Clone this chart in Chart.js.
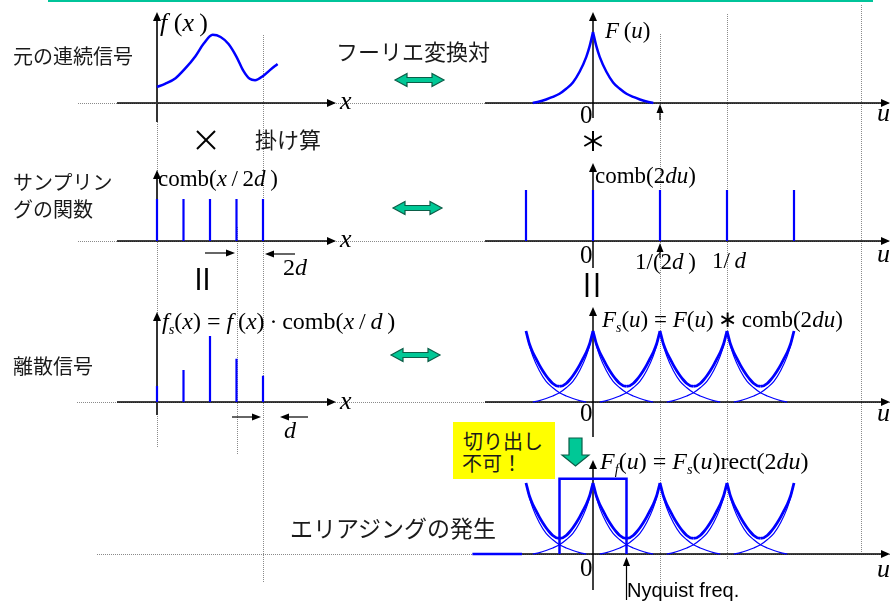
<!DOCTYPE html>
<html>
<head>
<meta charset="utf-8">
<script src="https://cdn.jsdelivr.net/npm/chart.js@4.4.0/dist/chart.umd.min.js"></script>
<style>
body{margin:0;background:#fff;}
#wrap{position:relative;width:890px;height:603px;overflow:hidden;}
#c{position:absolute;left:0;top:0;}
.t{position:absolute;white-space:nowrap;line-height:1;}
.jp{font-family:"Noto Sans CJK JP",sans-serif;color:#1a1a1a;}
.m{font-family:"Liberation Serif","Times New Roman",serif;color:#000;}
.m i{font-style:italic;}
.sb{font-size:0.6em;position:relative;top:0.35em;}
.s{font-family:"Liberation Sans",Arial,sans-serif;color:#000;}
#note{position:absolute;left:453px;top:422px;width:102px;height:57px;background:#ffff00;}
</style>
</head>
<body>
<div id="wrap">
<canvas id="c" width="890" height="603"></canvas>
<div id="note"></div>

<div class="t jp" style="left:13px;top:46px;font-size:20px">元の連続信号</div>
<div class="t jp" style="left:336px;top:39px;font-size:22px">フーリエ変換対</div>
<div class="t jp" style="left:255px;top:127px;font-size:22px">掛け算</div>
<div class="t jp" style="left:13px;top:172px;font-size:20px">サンプリン</div>
<div class="t jp" style="left:13px;top:199px;font-size:20px">グの関数</div>
<div class="t jp" style="left:13px;top:356px;font-size:20px">離散信号</div>
<div class="t jp" style="left:290px;top:516px;font-size:23px">エリアジングの発生</div>
<div class="t jp" style="left:463px;top:431px;font-size:20px">切り出し</div>
<div class="t jp" style="left:462px;top:453px;font-size:20px">不可！</div>
<div class="t s" style="left:627px;top:580px;font-size:20px">Nyquist freq.</div>

<div class="t m" style="left:160px;top:10px;font-size:26px"><i>f</i>&nbsp;(<i>x</i>&thinsp;)</div>
<div class="t m" style="left:605px;top:19px;font-size:23px"><i>F</i>&thinsp;(<i>u</i>)</div>
<div class="t m" style="left:340px;top:88px;font-size:26px"><i>x</i></div>
<div class="t m" style="left:340px;top:226px;font-size:26px"><i>x</i></div>
<div class="t m" style="left:340px;top:388px;font-size:26px"><i>x</i></div>
<div class="t m" style="left:877px;top:100px;font-size:26px"><i>u</i></div>
<div class="t m" style="left:877px;top:241px;font-size:26px"><i>u</i></div>
<div class="t m" style="left:877px;top:400px;font-size:26px"><i>u</i></div>
<div class="t m" style="left:877px;top:556px;font-size:26px"><i>u</i></div>
<div class="t m" style="left:580px;top:102px;font-size:25px">0</div>
<div class="t m" style="left:580px;top:242px;font-size:25px">0</div>
<div class="t m" style="left:580px;top:400px;font-size:25px">0</div>
<div class="t m" style="left:580px;top:555px;font-size:25px">0</div>
<div class="t m" style="left:158px;top:167px;font-size:23px">comb(<i>x</i>&thinsp;/&thinsp;2<i>d</i>&thinsp;)</div>
<div class="t m" style="left:595px;top:164px;font-size:23px">comb(2<i>du</i>)</div>
<div class="t m" style="left:635px;top:250px;font-size:23px">1/(2<i>d</i>&thinsp;)</div>
<div class="t m" style="left:712px;top:249px;font-size:23px">1/&thinsp;<i>d</i></div>
<div class="t m" style="left:283px;top:255px;font-size:24px">2<i>d</i></div>
<div class="t m" style="left:284px;top:418px;font-size:24px"><i>d</i></div>
<div class="t m" style="left:162px;top:309px;font-size:24px"><i>f</i><span class="sb"><i>s</i></span>(<i>x</i>) = <i>f</i>&thinsp;(<i>x</i>)&thinsp;·&thinsp;comb(<i>x</i>&thinsp;/&thinsp;<i>d</i>&thinsp;)</div>
<div class="t m" style="left:602px;top:308px;font-size:23px"><i>F</i><span class="sb"><i>s</i></span>(<i>u</i>) = <i>F</i>(<i>u</i>)&thinsp;∗&thinsp;comb(2<i>du</i>)</div>
<div class="t m" style="left:600px;top:449px;font-size:24px"><i>F</i><span class="sb"><i>f</i></span>(<i>u</i>) = <i>F</i><span class="sb"><i>s</i></span>(<i>u</i>)rect(2<i>du</i>)</div>
</div>

<script>
// left column: x in units of d
const sampleX = [0, 1, 2, 3, 4];
const combXH = [0.59, 0.59, 0.59, 0.59, 0.59];
const sampleH = [0.225, 0.45, 0.93, 0.61, 0.37];
const fX = [0, 0.3, 0.7, 1.05, 1.45, 1.75, 2.1, 2.4, 2.7, 3.0, 3.25, 3.5, 3.7, 4.0, 4.25, 4.55];
const fY = [0.225, 0.27, 0.35, 0.48, 0.66, 0.83, 0.96, 0.93, 0.83, 0.65, 0.46, 0.34, 0.32, 0.38, 0.46, 0.55];

// right column: u in units of 1/(2d)
const combU = [-1, 0, 1, 2, 3];
const combUH = [0.72, 0.72, 0.72, 0.72, 0.72];
// one side of F(u), offset from its peak
const specOff = [0, 0.05, 0.1, 0.2, 0.3, 0.4, 0.5, 0.6, 0.7, 0.8, 0.9];
const specVal = [1, 0.80, 0.65, 0.44, 0.29, 0.20, 0.13, 0.085, 0.05, 0.02, 0];
// one side of the summed (aliased) spectrum, offset from a peak
const sumOff = [0, 0.05, 0.1, 0.15, 0.2, 0.25, 0.3, 0.35, 0.4, 0.45, 0.5];
const sumVal = [1, 0.82, 0.70, 0.61, 0.52, 0.44, 0.37, 0.31, 0.26, 0.23, 0.22];
const repCenters = [-1, 0, 1, 2, 3];
// rect(2du) window
const rectU = [-1.8, -1.06, null, -0.5, -0.5, 0.5, 0.5];
const rectV = [0, 0, null, 0, 1.06, 1.06, 0];

const W = 890, H = 603, P = 71;
const rowY = [103, 241, 402, 554];
const x0L = 157, dxL = 26.5, u0R = 593, duR = 67;
const BLUE = '#0000ff', TEAL = '#00c896';

const scales = {
  x: {display: false}, y: {display: false},
  xL: {type: 'linear', display: false, min: -x0L / dxL, max: (W - x0L) / dxL},
  xR: {type: 'linear', display: false, min: -u0R / duR, max: (W - u0R) / duR}
};
rowY.forEach((y, i) => {
  scales['y' + (i + 1)] = {type: 'linear', display: false, min: -(H - y) / P, max: y / P};
});

function spikes(xs, hs) {
  const d = [];
  xs.forEach((x, i) => { d.push({x: x, y: 0}, {x: x, y: hs[i]}, {x: x, y: null}); });
  return d;
}
function half(c, sign, off, val) {
  return off.map((o, i) => ({x: c + sign * o, y: val[i]}));
}
function curveSet(row, off, val, width, first, last) {
  const out = [];
  repCenters.forEach(c => {
    if (c < first || c > last) return;
    if (c > first || first === last) out.push(half(c, -1, off, val));
    if (c < last || first === last) out.push(half(c, 1, off, val));
  });
  return out.map(d => ({data: d, xAxisID: 'xR', yAxisID: 'y' + row, borderColor: BLUE,
    borderWidth: width, cubicInterpolationMode: 'monotone'}));
}

const datasets = [];
datasets.push({data: fX.map((x, i) => ({x: x, y: fY[i]})), xAxisID: 'xL', yAxisID: 'y1',
  borderColor: BLUE, borderWidth: 2.5, cubicInterpolationMode: 'monotone'});
datasets.push({data: spikes(sampleX, combXH), xAxisID: 'xL', yAxisID: 'y2', borderColor: BLUE, borderWidth: 2.2});
datasets.push({data: spikes(sampleX, sampleH), xAxisID: 'xL', yAxisID: 'y3', borderColor: BLUE, borderWidth: 2.2});
datasets.push({data: spikes(combU, combUH), xAxisID: 'xR', yAxisID: 'y2', borderColor: BLUE, borderWidth: 2.2});
// row 1: F(u)
curveSet(1, specOff, specVal, 2.5, 0, 0).forEach(d => datasets.push(d));
// rows 3 and 4: replicas and their sum
[3, 4].forEach(r => {
  curveSet(r, specOff, specVal, 1.2, -1, 3).forEach(d => datasets.push(d));
  curveSet(r, sumOff, sumVal, 2.8, -1, 3).forEach(d => datasets.push(d));
});
datasets.push({data: rectU.map((u, i) => ({x: u, y: rectV[i]})), xAxisID: 'xR', yAxisID: 'y4',
  borderColor: BLUE, borderWidth: 2.5, tension: 0});

const decor = {
  id: 'decor',
  beforeDatasetsDraw(ch) {
    const c = ch.ctx, s = ch.scales;
    const XL = v => s.xL.getPixelForValue(v), XR = v => s.xR.getPixelForValue(v);
    const Y = (r, v) => s['y' + r].getPixelForValue(v);
    const line = (x1, y1, x2, y2) => { c.beginPath(); c.moveTo(x1, y1); c.lineTo(x2, y2); c.stroke(); };
    const head = (x, y, dir, L, w) => {
      c.beginPath(); c.moveTo(x, y);
      if (dir === 'r') { c.lineTo(x - L, y - w); c.lineTo(x - L, y + w); }
      if (dir === 'l') { c.lineTo(x + L, y - w); c.lineTo(x + L, y + w); }
      if (dir === 'u') { c.lineTo(x - w, y + L); c.lineTo(x + w, y + L); }
      c.closePath(); c.fill();
    };
    c.save();
    // top rule
    c.strokeStyle = '#00c49a'; c.lineWidth = 2; line(48, 1, 873, 1);
    // dotted guides
    c.strokeStyle = '#8a8a8a'; c.lineWidth = 1; c.setLineDash([1, 1]);
    [[1, 78], [2, 78], [3, 77], [4, 97]].forEach(([r, xs]) => line(xs, Math.round(Y(r, 0)) + 0.5, W, Math.round(Y(r, 0)) + 0.5));
    [[XL(0), 122, 447], [XL(3), 227, 455], [XL(4), 35, 582], [XR(1), 34, 590], [XR(2), 14, 560], [XR(4), 5, 553]]
      .forEach(([x, y1, y2]) => line(Math.round(x) + 0.5, y1, Math.round(x) + 0.5, y2));
    c.setLineDash([]);
    // axes
    c.strokeStyle = '#000'; c.fillStyle = '#000'; c.lineWidth = 1.5;
    [1, 2, 3].forEach(r => { const y = Y(r, 0); line(117, y, 328, y); head(336, y, 'r', 9, 4); });
    [1, 2, 3, 4].forEach(r => { const y = Y(r, 0); line(485, y, 882, y); head(890, y, 'r', 9, 4); });
    c.strokeStyle = '#333'; c.fillStyle = '#000'; c.lineWidth = 2;
    [[1, 122, 12], [2, 241, 170], [3, 415, 312]].forEach(([r, yb, yt]) => { line(XL(0), yb, XL(0), yt + 8); head(XL(0), yt, 'u', 9, 4); });
    c.strokeStyle = '#000'; c.lineWidth = 1.5;
    [[118, 12], [268, 163], [437, 307], [590, 460]].forEach(([yb, yt]) => { line(XR(0), yb, XR(0), yt + 8); head(XR(0), yt, 'u', 9, 4); });
    // small up arrows
    c.lineWidth = 1.2;
    [[XR(1), 120, 104], [XR(1), 258, 243], [XR(0.5), 600, 557]].forEach(([x, yb, yt]) => { line(x, yb, x, yt + 7); head(x, yt, 'u', 9, 3.5); });
    // spacing arrows
    [[205, 235, 253, 'r'], [295, 265, 254, 'l'], [232, 261, 417, 'r'], [308, 280, 417, 'l']].forEach(([a, b, y, d]) => {
      line(a, y, d === 'r' ? b - 7 : b + 7, y); head(b, y, d, 9, 3.5);
    });
    // multiply, convolve, equal signs
    c.lineWidth = 2;
    line(197, 131, 215, 149); line(215, 131, 197, 149);
    const cx = XR(0), cy = 141, rr = 10;
    for (let k = 0; k < 3; k++) { const a = Math.PI / 2 + k * Math.PI / 3; line(cx - rr * Math.cos(a), cy - rr * Math.sin(a), cx + rr * Math.cos(a), cy + rr * Math.sin(a)); }
    c.lineWidth = 2.6;
    line(198.5, 268, 198.5, 290); line(206.5, 268, 206.5, 290);
    line(587, 273, 587, 297); line(597, 273, 597, 297);
    // teal arrows
    c.fillStyle = TEAL; c.strokeStyle = '#0b5e48'; c.lineWidth = 1.2;
    const dbl = (x1, x2, y) => {
      const hh = 6.5, sh = 2.5, hl = 12;
      c.beginPath(); c.moveTo(x1, y); c.lineTo(x1 + hl, y - hh); c.lineTo(x1 + hl, y - sh); c.lineTo(x2 - hl, y - sh);
      c.lineTo(x2 - hl, y - hh); c.lineTo(x2, y); c.lineTo(x2 - hl, y + hh); c.lineTo(x2 - hl, y + sh);
      c.lineTo(x1 + hl, y + sh); c.lineTo(x1 + hl, y + hh); c.closePath(); c.fill(); c.stroke();
    };
    dbl(395, 444, 80); dbl(393, 442, 208); dbl(391, 440, 355);
    c.beginPath(); c.moveTo(569, 438); c.lineTo(582, 438); c.lineTo(582, 455); c.lineTo(589, 455); c.lineTo(575.5, 466);
    c.lineTo(562, 455); c.lineTo(569, 455); c.closePath(); c.fill(); c.stroke();
    c.restore();
  }
};

new Chart(document.getElementById('c'), {
  type: 'line',
  data: {datasets: datasets},
  options: {
    responsive: false, animation: false, events: [],
    layout: {padding: 0},
    elements: {point: {radius: 0}, line: {borderCapStyle: 'butt'}},
    plugins: {legend: {display: false}, tooltip: {enabled: false}},
    scales: scales
  },
  plugins: [decor]
});
</script>
</body>
</html>
